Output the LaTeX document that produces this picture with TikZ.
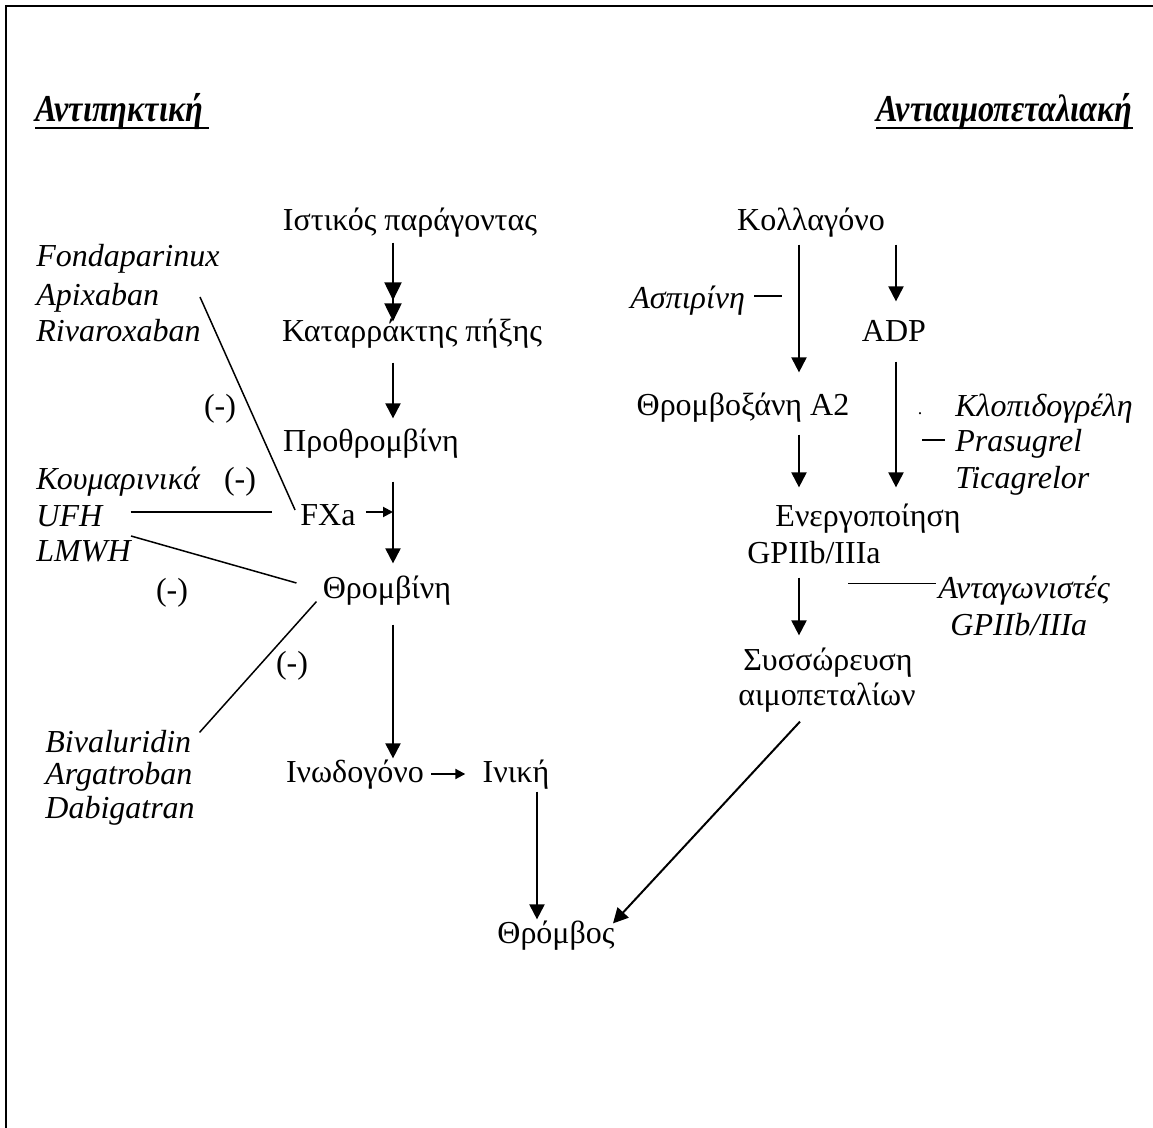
\documentclass[tikz,border=0pt]{standalone}
\usepackage{fontspec}
\setmainfont{Liberation Serif}
\newfontfamily\headfont[FakeStretch=0.85]{Liberation Serif}
\newcommand\bodysize{\fontsize{16}{19}\selectfont}
\usetikzlibrary{arrows.meta, positioning, calc}
\tikzset{
  stage/.style={inner sep=1pt, text height=0.89em, text depth=0.03em},
  drug/.style={stage, font=\bodysize\itshape, anchor=west},
  title/.style={inner sep=0pt, font=\headfont\fontsize{19}{22}\selectfont\bfseries\itshape},
  flow/.style={-{Triangle[length=7.5pt,width=7.5pt]}, line width=1pt},
  smallflow/.style={-{Triangle[length=5pt,width=5pt]}, line width=1pt},
  dblflow/.style={-{Triangle[length=9pt,width=8.5pt,sep=1.5pt] Triangle[length=9pt,width=8.5pt]}, line width=1pt},
  tick/.style={line width=0.75pt},
  uline/.style={line width=1.4pt},
  frame/.style={line width=1.2pt},
}

\begin{document}
\begin{tikzpicture}[x=0.5pt, y=-0.5pt, font=\bodysize]

  \useasboundingbox (0,0) rectangle (1153,1128);
  \draw[frame] (6,1128) -- (6,6) -- (1153,6);

  %% Titles
  \node[title, anchor=base west] (antip) at (35,122) {Αντιπηκτική};
  \node[title, anchor=base east] (antiai) at (1133,122) {Αντιαιμοπεταλιακή};
  \draw[uline] ([yshift=-3pt]antip.base west) -- ([shift={(3pt,-3pt)}]antip.base east);
  \draw[uline] ([yshift=-3pt]antiai.base west) -- ([yshift=-3pt]antiai.base east);

  %% Coagulation cascade
  \coordinate (spineL) at (393,0);
  \node[stage] (istikos) at (410,222) {Ιστικός παράγοντας};
  \node[stage] (katar) at (412,333) {Καταρράκτης πήξης};
  \node[stage] (prothr) at (371,443) {Προθρομβίνη};
  \node[stage] (fxa) at (328,517) {FXa};
  \node[stage] (thromb) at (387,590) {Θρομβίνη};
  \node[stage] (inodo) at (355,774) {Ινωδογόνο};
  \node[stage] (iniki) at (516,774) {Ινική};
  \node[stage] (thrombos) at (556,935) {Θρόμβος};

  \draw[dblflow] ([yshift=-4.5pt]istikos.south -| spineL) -- (katar.north -| spineL);
  \draw[flow] ([yshift=-9pt]katar.south -| spineL) -- ([yshift=6.5pt]prothr.north -| spineL);
  \draw[flow] ([yshift=-13.5pt]prothr.south -| spineL) -- ([yshift=7.5pt]thromb.north -| spineL);
  \draw[smallflow] ([shift={(4pt,2.5pt)}]fxa.east) -- ([yshift=2.5pt]fxa.east -| spineL);
  \draw[flow] ([yshift=-11.5pt]thromb.south -| spineL) -- ([yshift=2pt]inodo.north -| spineL);
  \draw[smallflow] ([xshift=2.5pt]inodo.east) -- ([xshift=-7.5pt]iniki.west);
  \draw[flow] ([shift={(10.5pt,-3pt)}]iniki.south) -- ([shift={(-9.5pt,2pt)}]thrombos.north);

  %% Anticoagulants
  \node[drug] (fonda) at (34,258) {Fondaparinux};
  \node[drug] (apix) at (34,297) {Apixaban};
  \node[drug] (rivaro) at (34,333) {Rivaroxaban};
  \node[drug] (coum) at (34,481) {Κουμαρινικά};
  \node[drug] (ufh) at (34,518) {UFH};
  \node[drug] (lmwh) at (34,553) {LMWH};
  \node[drug] (bival) at (43,744) {Bivaluridin};
  \node[drug] (argat) at (43,776) {Argatroban};
  \node[drug] (dabig) at (43,810) {Dabigatran};

  \node[stage] (minusA) at (220,408) {(-)};
  \node[stage] (minusB) at (240,481) {(-)};
  \node[stage] (minusC) at (172,592) {(-)};
  \node[stage] (minusD) at (292,665) {(-)};

  \draw[tick] (apix.east -| 200,0) -- ([shift={(-1.5pt,3.5pt)}]fxa.west);
  \draw[tick] ([shift={(13pt,3pt)}]ufh.east) -- ([shift={(-13pt,2.5pt)}]fxa.west);
  \draw[tick] ([shift={(-1pt,8.5pt)}]lmwh.east) -- ([shift={(-12pt,3.5pt)}]thromb.west);
  \draw[tick] ([xshift=-2pt]thromb.south west) -- ([xshift=3pt]bival.north east);

  %% Platelet pathway
  \coordinate (spineR) at (799,0);
  \coordinate (spineADP) at (896,0);
  \node[stage] (kollag) at (811,222) {Κολλαγόνο};
  \node[stage] (adp) at (894,333) {ADP};
  \node[stage] (thrA) at (743,407) {Θρομβοξάνη Α2};
  \node[stage] (energ) at (868,518) {Ενεργοποίηση};
  \node[stage] (gp) at (814,555) {GPIIb/IIIa};
  \node[stage] (syss) at (828,662) {Συσσώρευση};
  \node[stage] (aimo) at (827,697) {αιμοπεταλίων};

  \draw[flow] ([yshift=-5.5pt]kollag.south -| spineR) -- ([yshift=11.5pt]thrA.north -| spineR);
  \draw[flow] ([yshift=-5.5pt]kollag.south -| spineADP) -- ([yshift=10pt]adp.north -| spineADP);
  \draw[flow] ([yshift=-8.5pt]adp.south -| spineADP) -- ([yshift=9.5pt]energ.north -| spineADP);
  \draw[flow] ([yshift=-8pt]thrA.south -| spineR) -- ([yshift=9.5pt]energ.north -| spineR);
  \draw[flow] ([yshift=-5.5pt]gp.south -| spineR) -- ([yshift=7.5pt]syss.north -| spineR);
  \draw[flow] ([shift={(-13.5pt,-6.5pt)}]aimo.south) -- ([xshift=-2pt]thrombos.north east);

  %% Antiplatelets
  \node[drug] (aspir) at (628,300) {Ασπιρίνη};
  \node[stage, font=\fontsize{9}{10}\selectfont] (dot) at (920,406) {.};
  \node[drug] (klop) at (953,408) {Κλοπιδογρέλη};
  \node[drug] (pras) at (953,443) {Prasugrel};
  \node[drug] (tica) at (953,480) {Ticagrelor};
  \node[drug] (antag) at (936,590) {Ανταγωνιστές};
  \node[drug] (antgp) at (948,627) {GPIIb/IIIa};

  \draw[tick] ([shift={(3.5pt,2pt)}]aspir.east) -- ++(14pt,0);
  \draw[tick] ([shift={(-4pt,1.5pt)}]pras.west) -- ++(-11.5pt,0);
  \draw[tick] ([shift={(-17.5pt,-8.5pt)}]gp.south east) coordinate (gpline) -- (gpline -| antag.west);

\end{tikzpicture}
\end{document}
